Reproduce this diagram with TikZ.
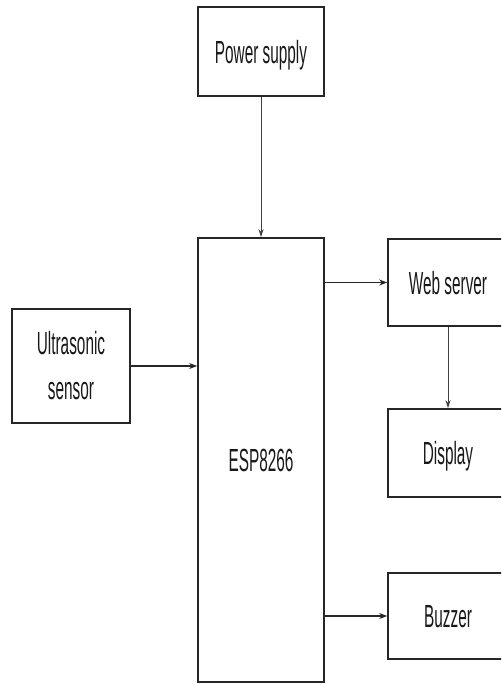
\documentclass[tikz,border=0pt]{standalone}
\usepackage{fontspec}
\setmainfont{Liberation Sans}
\usetikzlibrary{arrows.meta}
\newcommand{\sq}[1]{\scalebox{0.48}[1]{#1}}
\begin{document}
\begin{tikzpicture}[x=1pt,y=-1pt,
  box/.style={draw=black!85,line width=1.6pt,inner sep=0pt,align=center,text=black!90,font=\fontsize{32}{45}\selectfont},
  one/.style={text depth=0pt},
  arr/.style={draw=black!85,line width=1.6pt,-{Stealth[length=8pt,width=6pt]}},
  arrthin/.style={draw=black!75,line width=1pt,-{Stealth[length=8pt,width=5pt]}}]
\useasboundingbox (0,0) rectangle (501,684);
\clip (0,0) rectangle (501,684);
\node[box,one,minimum width=126pt,minimum height=89pt] (ps) at (261,51.5) {\sq{Power supply}};
\node[box,one,minimum width=126pt,minimum height=444pt] (esp) at (261,460) {\sq{ESP8266}};
\node[box,minimum width=118pt,minimum height=114pt] (us) at (71,366) {\sq{Ultrasonic}\\\sq{sensor}};
\node[box,one,minimum width=120pt,minimum height=87pt] (ws) at (448,282.5) {\sq{Web server}};
\node[box,one,minimum width=120pt,minimum height=88pt] (disp) at (448,453) {\sq{Display}};
\node[box,one,minimum width=120pt,minimum height=86pt] (bz) at (448,616) {\sq{Buzzer}};
\draw[arrthin] (ps.south) -- (esp.north);
\draw[arr] (us.east) -- (esp.west|-us.east);
\draw[arr] (esp.east|-ws.west) -- (ws.west);
\draw[arrthin] (ws.south) -- (disp.north);
\draw[arr] (esp.east|-bz.west) -- (bz.west);
\end{tikzpicture}
\end{document}
